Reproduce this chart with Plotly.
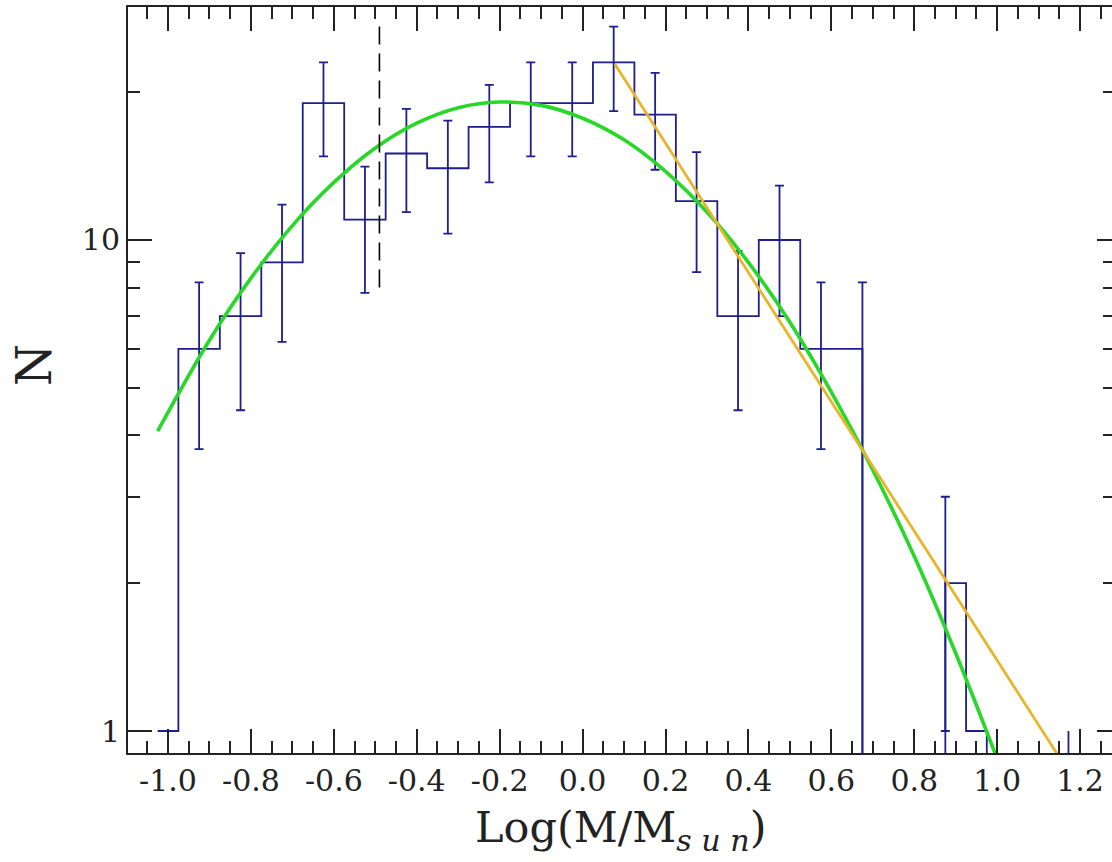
import plotly.graph_objects as go

# histogram: bin edges and counts (0 = empty bin, drawn below the axis)
bin_edges = [-1.025, -0.975, -0.875, -0.775, -0.675, -0.575, -0.475, -0.375, -0.275,
             -0.175, -0.075, 0.025, 0.125, 0.225, 0.325, 0.425, 0.525, 0.675, 0.875,
             0.925, 0.975]
counts = [1, 6, 7, 9, 19, 11, 15, 14, 17, 19, 19, 23, 18, 12, 7, 10, 6, 0, 2, 1]

# error bars: position, value, upper and lower ends
err_x = [-0.925, -0.825, -0.725, -0.625, -0.525, -0.425, -0.325, -0.225, -0.125,
         -0.025, 0.075, 0.175, 0.275, 0.375, 0.475, 0.575, 0.675, 0.875]
err_val = [6, 7, 9, 19, 11, 15, 14, 17, 19, 19, 23, 18, 12, 7, 10, 6, 6, 2]
err_hi = [8.2, 9.4, 11.8, 23.0, 14.1, 18.5, 17.5, 20.7, 23.0, 23.0, 27.2, 21.9,
          15.1, 9.5, 12.9, 8.2, 8.2, 3.0]
err_lo = [3.75, 4.5, 6.2, 14.8, 7.8, 11.4, 10.3, 13.1, 14.8, 14.8, 18.3, 13.9,
          8.6, 4.5, 7.0, 3.75, 0, 1.0]

# lone segment near the right edge
stray_x = [1.172]
stray_top = [1.0]

# log-normal fit (green)
fit_x = [-1.025, -0.9, -0.8, -0.7, -0.6, -0.5, -0.4, -0.3, -0.2, -0.1, 0.0,
         0.1, 0.2, 0.3, 0.4, 0.5, 0.6, 0.7, 0.8, 0.9, 0.995]
fit_n = [4.08, 6.25, 8.36, 10.7, 13.1, 15.4, 17.3, 18.6, 19.1, 18.8, 17.7,
         16.0, 13.8, 11.4, 9.0, 6.8, 4.9, 3.4, 2.27, 1.44, 0.90]

# power-law fit (orange)
pl_x = [0.078, 1.144]
pl_n = [22.8, 0.90]

# completeness limit (dashed)
cut_x = [-0.49, -0.49]
cut_n = [8.0, 28.0]

x_ticks = [-1.0, -0.8, -0.6, -0.4, -0.2, 0.0, 0.2, 0.4, 0.6, 0.8, 1.0, 1.2]
x_ticktext = ["-1.0", "-0.8", "-0.6", "-0.4", "-0.2", "0.0", "0.2", "0.4",
              "0.6", "0.8", "1.0", "1.2"]
y_ticks = [1, 10]
y_minor = [2, 3, 4, 5, 6, 7, 8, 9, 20]

FLOOR = 0.5  # below the y range, so empty bins drop off the plot
BLUE = "#1e1e8c"
FONT = "DejaVu Serif"

step_y = [c if c > 0 else FLOOR for c in counts] + [FLOOR]
lo = [v - (l if l > 0 else FLOOR) for v, l in zip(err_val, err_lo)]
hi = [h - v for v, h in zip(err_val, err_hi)]

fig = go.Figure()
fig.add_trace(go.Scatter(x=bin_edges, y=step_y, mode="lines", line_shape="hv",
                         line=dict(color=BLUE, width=1.8)))
fig.add_trace(go.Scatter(x=err_x, y=err_val, mode="markers", marker=dict(size=1, opacity=0),
                         error_y=dict(type="data", array=hi, arrayminus=lo, symmetric=False,
                                      color=BLUE, thickness=1.8, width=4.5)))
for sx, st in zip(stray_x, stray_top):
    fig.add_trace(go.Scatter(x=[sx, sx], y=[FLOOR, st], mode="lines",
                             line=dict(color=BLUE, width=1.8)))
fig.add_trace(go.Scatter(x=fit_x, y=fit_n, mode="lines", line_shape="spline",
                         line=dict(color="#28d828", width=3.6)))
fig.add_trace(go.Scatter(x=pl_x, y=pl_n, mode="lines",
                         line=dict(color="#e8b52a", width=2.8)))
fig.add_trace(go.Scatter(x=cut_x, y=cut_n, mode="lines",
                         line=dict(color="black", width=1.6, dash="18px,9px")))
# carrier for the right-hand tick axis
fig.add_trace(go.Scatter(x=[0], y=[1], yaxis="y2", mode="markers",
                         marker=dict(opacity=0), hoverinfo="skip"))

yrange = [-0.0448, 1.4745]
fig.update_layout(
    width=1112, height=862,
    margin=dict(l=128, r=0, t=7, b=109),
    paper_bgcolor="white", plot_bgcolor="white",
    showlegend=False,
    font=dict(family=FONT, color="#222"),
    xaxis=dict(range=[-1.0965, 1.277], showgrid=False, zeroline=False,
               showline=True, linecolor="#222", linewidth=2, mirror="ticks",
               ticks="inside", ticklen=24, tickwidth=1.6, tickcolor="#222",
               tickvals=x_ticks, ticktext=x_ticktext,
               tickfont=dict(size=30, family=FONT),
               minor=dict(dtick=0.05, tick0=0, ticks="inside", ticklen=12,
                          tickwidth=1.6, tickcolor="#222")),
    yaxis=dict(type="log", range=yrange, showgrid=False, zeroline=False,
               showline=True, linecolor="#222", linewidth=2, mirror=False,
               ticks="inside", ticklen=24, tickwidth=1.6, tickcolor="#222",
               tickvals=y_ticks, ticktext=["1", "10"],
               tickfont=dict(size=30, family=FONT),
               minor=dict(tickvals=y_minor, ticks="inside", ticklen=12,
                          tickwidth=1.6, tickcolor="#222")),
    yaxis2=dict(type="log", range=yrange, overlaying="y", side="right",
                showgrid=False, zeroline=False, showline=False,
                showticklabels=False, ticks="inside", ticklen=15,
                tickwidth=1.6, tickcolor="#222", tickvals=y_ticks,
                minor=dict(tickvals=y_minor, ticks="inside", ticklen=9,
                           tickwidth=1.6, tickcolor="#222")),
)

fig.add_annotation(text="Log(M/M<sub><i>s u n</i></sub>)", xref="paper", yref="paper",
                   x=0.5, y=-0.103, xanchor="center", yanchor="middle",
                   showarrow=False, font=dict(size=43, family=FONT, color="#222"))
fig.add_annotation(text="N", xref="paper", yref="paper", textangle=-90,
                   x=-0.0955, y=0.52, xanchor="center", yanchor="middle",
                   showarrow=False, font=dict(size=48, family=FONT, color="#222"))

fig.write_html("out.html", config={"displayModeBar": False},
               post_script="document.body.style.margin='0px';")
